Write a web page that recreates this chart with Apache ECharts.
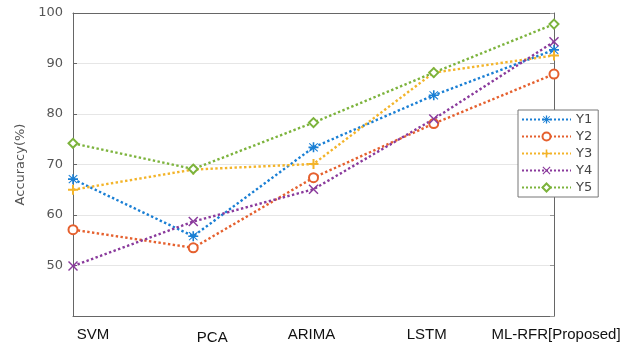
<!DOCTYPE html>
<html><head><meta charset="utf-8">
<script src="https://cdn.jsdelivr.net/npm/echarts@6/dist/echarts.min.js"></script>
<style>html,body{margin:0;padding:0;background:#fff}#c{width:625px;height:345px}</style>
</head><body><div id="c"></div>
<script>
const categories = ['SVM', 'PCA', 'ARIMA', 'LSTM', 'ML-RFR[Proposed]'];
const seriesNames = ['Y1', 'Y2', 'Y3', 'Y4', 'Y5'];
const y1 = [67.1, 55.8, 73.4, 83.7, 92.7];
const y2 = [57.1, 53.5, 67.4, 78.1, 87.9];
const y3 = [65.0, 69.0, 70.1, 88.2, 91.6];
const y4 = [49.9, 58.7, 65.1, 79.0, 94.3];
const y5 = [74.2, 69.1, 78.3, 88.2, 97.8];
const yTicks = [50, 60, 70, 80, 90, 100];

const colors = ['#1a7fd4', '#e5602e', '#f3b42a', '#8a3a9c', '#7cb33c'];
const plusPath = 'path://M4,0H6V4H10V6H6V10H4V6H0V4H4Z';
const xPath = 'path://M1,0L5,4L9,0L10,1L6,5L10,9L9,10L5,6L1,10L0,9L4,5L0,1Z';
const starPath = 'path://M4.2,0H5.8V3.4L8.9,0.6L9.6,1.3L6.6,4.2H10V5.8H6.6L9.6,8.7L8.9,9.4L5.8,6.6V10H4.2V6.6L1.1,9.4L0.4,8.7L3.4,5.8H0V4.2H3.4L0.4,1.3L1.1,0.6L4.2,3.4Z';
const symbols = [starPath, 'emptyCircle', plusPath, xPath, 'emptyDiamond'];
const data = [y1, y2, y3, y4, y5];

const labelShift = [
  {padding: [0, 0, 0, 40]},
  {padding: [3, 0, 0, 38]},
  {padding: [0, 4, 0, 0]},
  {padding: [0, 14, 0, 0]},
  {padding: [0, 0, 0, 4]}
];

const chart = echarts.init(document.getElementById('c'));
chart.setOption({
  animation: false,
  color: colors,
  grid: {left: 73, right: 71, top: 13, bottom: 28},
  legend: {
    orient: 'vertical', left: 518, top: 110,
    itemWidth: 49, itemHeight: 10, itemGap: 4,
    padding: [3, 6, 3, 3],
    backgroundColor: '#fff', borderColor: '#777', borderWidth: 1,
    textStyle: {fontSize: 13, color: '#444', fontFamily: 'DejaVu Sans'},
    data: seriesNames
  },
  xAxis: [{
    type: 'category', boundaryGap: false,
    data: categories.map((c, i) => ({value: c, textStyle: labelShift[i]})),
    axisLine: {lineStyle: {color: '#666'}},
    axisTick: {show: false},
    axisLabel: {interval: 0, hideOverlap: false, margin: 11, fontSize: 15, color: '#111', fontFamily: 'Liberation Sans'},
    splitLine: {show: false}
  }, {
    type: 'category', position: 'top', boundaryGap: false, data: categories,
    axisLine: {lineStyle: {color: '#666'}}, axisTick: {show: false}, axisLabel: {show: false}
  }],
  yAxis: [{
    type: 'value', min: 40, max: 100, interval: 10,
    name: 'Accuracy(%)', nameLocation: 'middle', nameGap: 45,
    nameTextStyle: {fontSize: 13, color: '#555', fontFamily: 'DejaVu Sans'},
    axisLine: {show: true, lineStyle: {color: '#666'}},
    axisTick: {show: true, inside: true, length: 4, lineStyle: {color: '#666'}},
    axisLabel: {fontSize: 13, color: '#555', margin: 10, fontFamily: 'DejaVu Sans',
      formatter: v => yTicks.includes(v) ? String(v) : ''},
    splitLine: {lineStyle: {color: '#e6e6e6'}}
  }, {
    type: 'value', position: 'right', min: 40, max: 100, interval: 10,
    axisLine: {show: true, lineStyle: {color: '#666'}},
    axisTick: {show: true, inside: true, length: 4, lineStyle: {color: '#999'}},
    axisLabel: {show: false}, splitLine: {show: false}
  }],
  series: seriesNames.map((n, i) => ({
    name: n, type: 'line', data: data[i],
    symbol: symbols[i], symbolSize: i === 1 || i === 4 ? 9 : 10,
    lineStyle: {type: 'dotted', width: 2.4, color: colors[i]},
    itemStyle: {color: colors[i], borderColor: colors[i], borderWidth: (i === 1 || i === 4) ? 1.5 : 0}
  }))
});
</script></body></html>
